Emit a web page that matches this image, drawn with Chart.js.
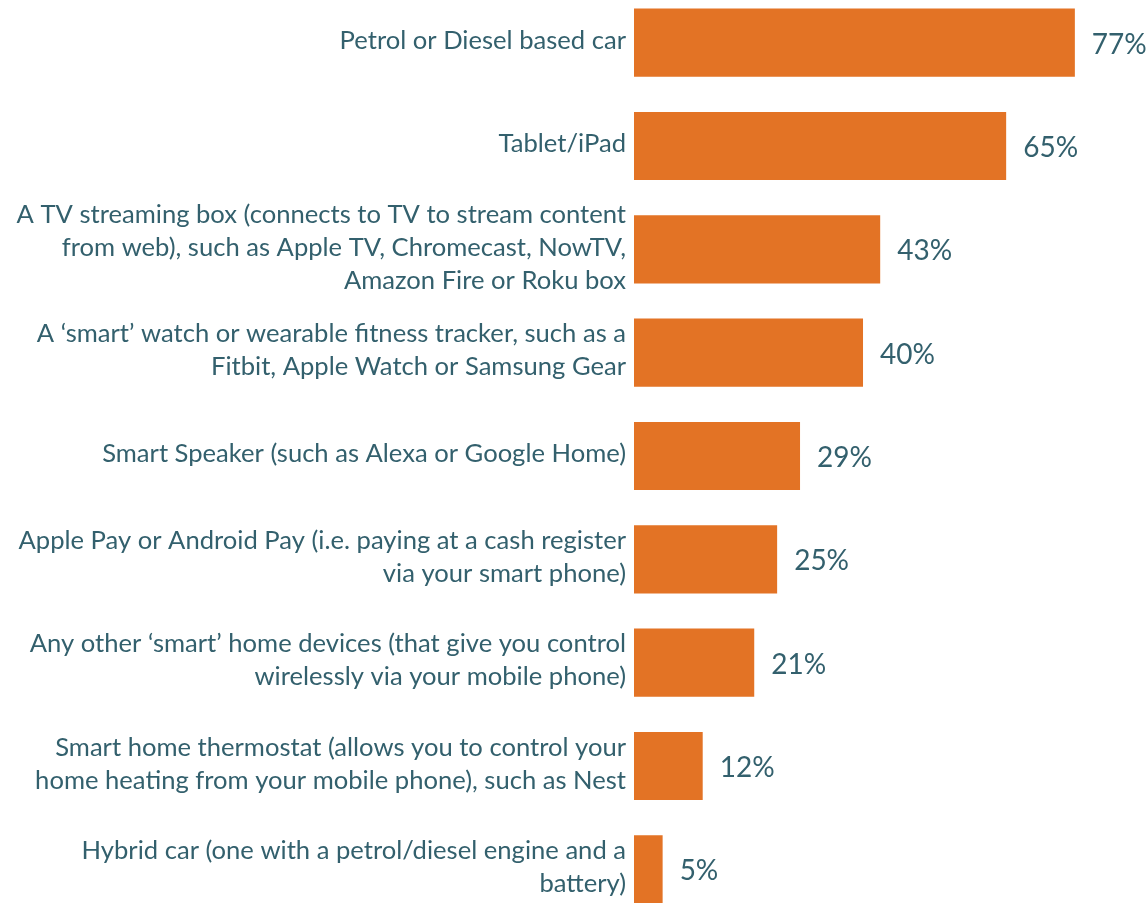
<!DOCTYPE html>
<html>
<head>
<meta charset="utf-8">
<script src="https://cdn.jsdelivr.net/npm/chart.js@4"></script>
<style>
  html, body { margin: 0; padding: 0; background: #fff; overflow: hidden; }
  #wrap { position: absolute; left: 0; top: -9px; width: 1147px; height: 930px; }
</style>
</head>
<body>
<div id="wrap"><canvas id="devices"></canvas></div>
<script>
const devices = [
  ["Petrol or Diesel based car"],
  ["Tablet/iPad"],
  ["A TV streaming box (connects to TV to stream content", "from web), such as Apple TV, Chromecast, NowTV,", "Amazon Fire or Roku box"],
  ["A \u2018smart\u2019 watch or wearable fitness tracker, such as a", "Fitbit, Apple Watch or Samsung Gear"],
  ["Smart Speaker (such as Alexa or Google Home)"],
  ["Apple Pay or Android Pay (i.e. paying at a cash register", "via your smart phone)"],
  ["Any other \u2018smart\u2019 home devices (that give you control", "wirelessly via your mobile phone)"],
  ["Smart home thermostat (allows you to control your", "home heating from your mobile phone), such as Nest"],
  ["Hybrid car (one with a petrol/diesel engine and a", "battery)"]
];
const ownership = [77, 65, 43, 40, 29, 25, 21, 12, 5];

const textColor = "#33606d";
const barColor = "#e37325";
const fontFamily = "Lato, 'Open Sans', sans-serif";

// percentage labels to the right of each bar
const valueLabels = {
  id: "valueLabels",
  afterDatasetsDraw(chart) {
    const ctx = chart.ctx;
    const meta = chart.getDatasetMeta(0);
    ctx.save();
    ctx.font = "28px " + fontFamily;
    ctx.fillStyle = textColor;
    ctx.textAlign = "left";
    ctx.textBaseline = "middle";
    meta.data.forEach((bar, i) => {
      ctx.fillText(ownership[i] + "%", bar.x + 17, bar.y + 2);
    });
    ctx.restore();
  }
};

new Chart(document.getElementById("devices"), {
  type: "bar",
  data: {
    labels: devices,
    datasets: [{
      data: ownership,
      backgroundColor: barColor,
      borderWidth: 0,
      categoryPercentage: 1,
      barPercentage: 0.66
    }]
  },
  plugins: [valueLabels],
  options: {
    indexAxis: "y",
    responsive: true,
    maintainAspectRatio: false,
    animation: false,
    layout: { padding: 0, autoPadding: false },
    plugins: { legend: { display: false }, tooltip: { enabled: false } },
    scales: {
      x: { display: false, min: 0, max: 89.6 },
      y: {
        grid: { display: false, drawTicks: false },
        border: { display: false },
        afterFit(scale) {
          scale.width = 634;
          scale.paddingTop = 0;
          scale.paddingBottom = 0;
        },
        ticks: {
          color: textColor,
          padding: 8,
          labelOffset: -2,
          font: { family: fontFamily, size: 25.6, lineHeight: "33px" }
        }
      }
    }
  }
});
</script>
</body>
</html>
